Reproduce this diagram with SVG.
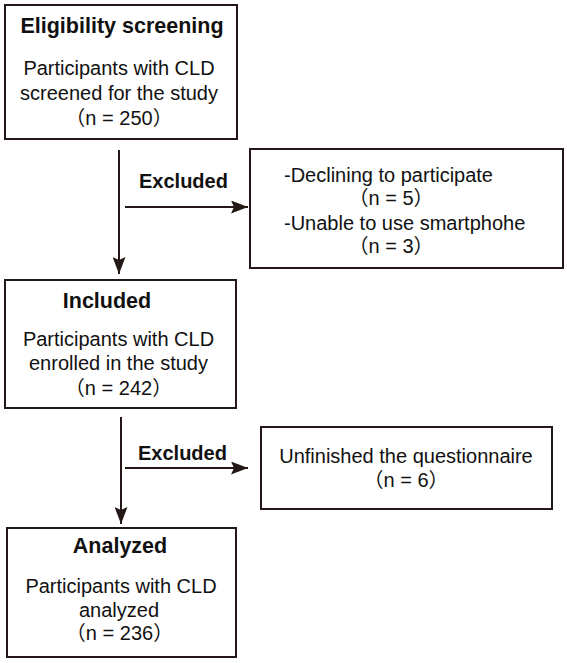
<svg xmlns="http://www.w3.org/2000/svg" width="567" height="663" viewBox="0 0 567 663">
<style>
.box{fill:#fff;stroke:#231815;stroke-width:2}
.t{font-family:"Liberation Sans",Arial,"Noto Sans CJK SC",sans-serif;font-size:20px;fill:#111}
.h{font-family:"Liberation Sans",Arial,"Noto Sans CJK SC",sans-serif;font-size:21.5px;font-weight:bold;fill:#111}
.e{font-family:"Liberation Sans",Arial,sans-serif;font-size:20px;font-weight:bold;fill:#111}
.c{text-anchor:middle}
.ln{stroke:#231815;stroke-width:2;fill:none}
</style>
<defs>
<marker id="arr" markerWidth="17" markerHeight="13" refX="17" refY="6.5" orient="auto" markerUnits="userSpaceOnUse">
<path d="M0,0 L17,6.5 L0,13 L3,6.5 Z" fill="#231815"/>
</marker>
</defs>
<rect width="567" height="663" fill="#fff"/>
<g id="connectors">
<line class="ln" x1="119" y1="150" x2="119" y2="274" marker-end="url(#arr)"/>
<line class="ln" x1="125" y1="207" x2="248" y2="207" marker-end="url(#arr)"/>
<text class="e" x="139" y="188">Excluded</text>
<line class="ln" x1="121" y1="417" x2="121" y2="524" marker-end="url(#arr)"/>
<line class="ln" x1="125" y1="468" x2="248" y2="468" marker-end="url(#arr)"/>
<text class="e" x="138" y="460">Excluded</text>
</g>
<g id="eligibility">
<rect class="box" x="5" y="5" width="232" height="134"/>
<text class="h c" x="122" y="33">Eligibility screening</text>
<text class="t c" x="119" y="75">Participants with CLD</text>
<text class="t c" x="119" y="100">screened for the study</text>
<text class="t c" x="119" y="125">（n = 250）</text>
</g>
<g id="excluded1">
<rect class="box" x="250" y="149" width="313" height="119"/>
<text class="t" x="284" y="182">-Declining to participate</text>
<text class="t c" x="391" y="205">（n = 5）</text>
<text class="t" x="284" y="230">-Unable to use smartphohe</text>
<text class="t c" x="391" y="253">（n = 3）</text>
</g>
<g id="included">
<rect class="box" x="5" y="280" width="231" height="128"/>
<text class="h c" x="107" y="308">Included</text>
<text class="t c" x="118.5" y="346">Participants with CLD</text>
<text class="t c" x="118.5" y="370">enrolled in the study</text>
<text class="t c" x="118.5" y="395">（n = 242）</text>
</g>
<g id="excluded2">
<rect class="box" x="261" y="427" width="291" height="82"/>
<text class="t c" x="406" y="463">Unfinished the questionnaire</text>
<text class="t c" x="406" y="487">（n = 6）</text>
</g>
<g id="analyzed">
<rect class="box" x="7" y="528" width="229" height="129"/>
<text class="h c" x="120" y="553">Analyzed</text>
<text class="t c" x="121" y="593">Participants with CLD</text>
<text class="t c" x="119" y="617">analyzed</text>
<text class="t c" x="119.5" y="640">（n = 236）</text>
</g>
</svg>
